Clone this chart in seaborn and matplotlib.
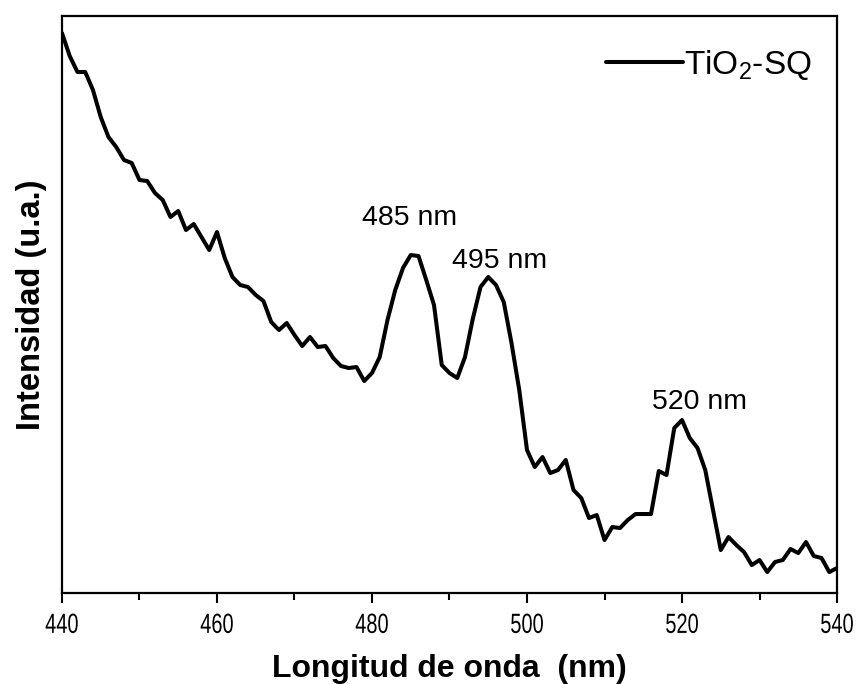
import numpy as np
import pandas as pd
import matplotlib
matplotlib.use("Agg")
import matplotlib.pyplot as plt
from matplotlib.patheffects import AbstractPathEffect
from matplotlib.transforms import Affine2D
from matplotlib.ticker import MultipleLocator
import seaborn as sns

# Photoluminescence spectrum of TiO2-SQ, 1 nm steps (arbitrary units)
wavelength = list(range(440, 541))
intensity = [
    560, 537, 521, 521, 503, 476, 456, 446, 433, 430,   # 440-449
    413, 412, 400, 393, 376, 382, 363, 369, 356, 343,   # 450-459
    361, 335, 316, 308, 306, 298, 292, 271, 263, 270,   # 460-469
    258, 247, 256, 246, 247, 235, 227, 225, 226, 212,   # 470-479
    220, 236, 273, 303, 325, 338, 337, 313, 288, 228,   # 480-489
    220, 215, 236, 274, 306, 316, 308, 291, 250, 203,   # 490-499
    143, 126, 136, 120, 123, 133, 103, 95, 75, 78,      # 500-509
    53, 66, 65, 73, 79, 79, 79, 122, 118, 165,          # 510-519
    173, 155, 145, 123, 83, 43, 56, 48, 41, 28,         # 520-529
    33, 21, 31, 33, 44, 40, 51, 37, 35, 21,             # 530-539
    25,                                                 # 540
]
peak_wl = [485, 495, 520]
peak_labels = ["485 nm", "495 nm", "520 nm"]
series_name = "TiO$_2$-SQ"

df = pd.DataFrame({"wavelength": wavelength, "intensity": intensity})

TICK_SQUEEZE = 0.72


class Tall(AbstractPathEffect):
    """Draw text stretched vertically, growing downward from its top edge."""

    def __init__(self, sy):
        super().__init__()
        self.sy = sy

    def draw_path(self, renderer, gc, tpath, affine, rgbFace=None):
        ext = tpath.get_extents(affine)
        top = ext.y1
        stretch = Affine2D().translate(0, -top).scale(1, self.sy).translate(0, top)
        renderer.draw_path(gc, tpath, affine + stretch, rgbFace)


sns.set_style("white")
plt.rcParams["font.family"] = ["Liberation Sans", "DejaVu Sans"]
plt.rcParams["mathtext.fontset"] = "custom"
plt.rcParams["mathtext.rm"] = "Liberation Sans"
plt.rcParams["mathtext.it"] = "Liberation Sans"
for key in ["text.color", "axes.labelcolor", "xtick.color", "ytick.color"]:
    plt.rcParams[key] = "black"

fig = plt.figure(figsize=(8.57, 6.84), dpi=100)
ax = fig.add_axes([0.0723, 0.133, 0.9044, 0.8436])

sns.lineplot(data=df, x="wavelength", y="intensity", ax=ax, color="black",
             linewidth=2.9, label=series_name)

ax.set_xlim(440, 540)
ax.set_ylim(0, 577)

# peak annotations placed relative to each peak
lookup = dict(zip(wavelength, intensity))
offsets = {485: (-0.1, 37), 495: (1.5, 16), 520: (2.2, 18)}
for wl, txt in zip(peak_wl, peak_labels):
    dx, dy = offsets[wl]
    ax.text(wl + dx, lookup[wl] + dy, txt, ha="center", va="center",
            fontsize=20.5, color="black")

ax.xaxis.set_major_locator(MultipleLocator(20))
ax.xaxis.set_minor_locator(MultipleLocator(10))
ax.tick_params(axis="x", which="major", direction="out", length=7, width=1.5,
               bottom=True, labelsize=20 * TICK_SQUEEZE, pad=7)
ax.tick_params(axis="x", which="minor", direction="out", length=5, width=1.5,
               bottom=True)
ax.set_yticks([])
# narrow, tall tick numerals
for lab in ax.get_xticklabels():
    lab.set_path_effects([Tall(1.0 / TICK_SQUEEZE)])

for sp in ax.spines.values():
    sp.set_visible(True)
    sp.set_linewidth(1.6)
    sp.set_color("black")

ax.set_xlabel("Longitud de onda  (nm)", fontsize=23, fontweight="bold", labelpad=16)
ax.set_ylabel("Intensidad (u.a.)", fontsize=23.5, fontweight="bold", labelpad=11)

leg = ax.legend(loc="upper right", bbox_to_anchor=(0.9846, 0.968), frameon=False,
                fontsize=24, handlelength=2.33, handletextpad=0.02,
                borderaxespad=0.0)

fig.savefig("out.png", dpi=100)
